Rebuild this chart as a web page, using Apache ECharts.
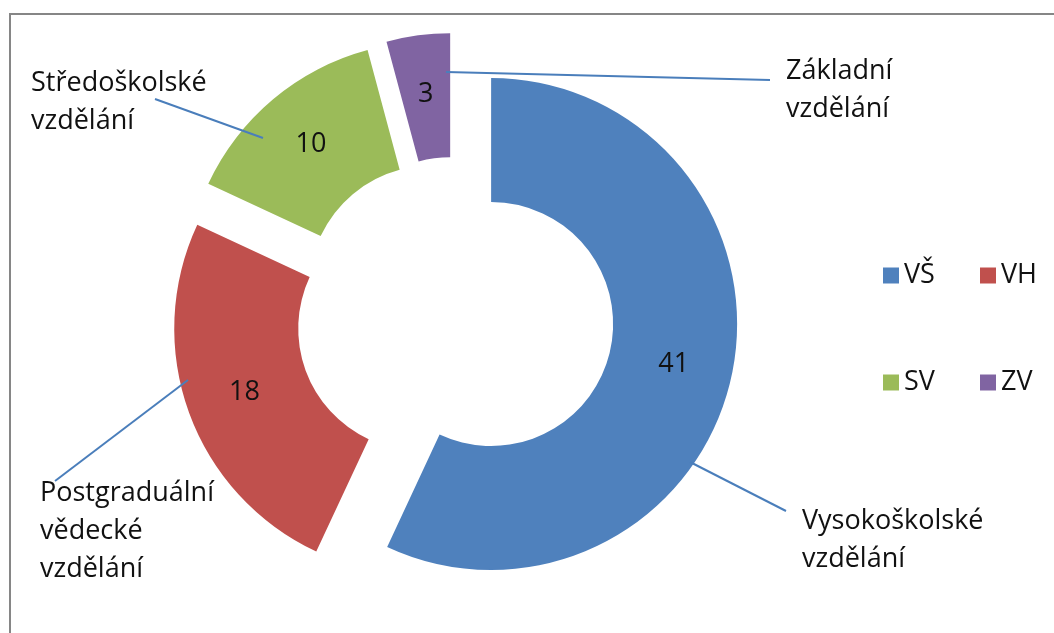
<!DOCTYPE html>
<html>
<head>
<meta charset="utf-8">
<script src="https://cdn.jsdelivr.net/npm/echarts@6/dist/echarts.min.js"></script>
<style>
html,body{margin:0;padding:0;background:#fff;}
#chart{width:1054px;height:633px;}
</style>
</head>
<body>
<div id="chart"></div>
<script>
// ---- data ----
const codes = ['VŠ', 'VH', 'SV', 'ZV'];
const values = [41, 18, 10, 3];
const fullNames = ['Vysokoškolské\nvzdělání', 'Postgraduální\nvědecké\nvzdělání', 'Středoškolské\nvzdělání', 'Základní\nvzdělání'];
const colors = ['#4f81bd', '#c0504d', '#9bbb59', '#8064a2'];

// ---- layout / style (not data) ----
const FONT = '"Open Sans"';
const FS = 27;
const LH = 38;
const TEXT = '#111111';
const outerLabelPos = [
  {x: 802, y: 502, line: [[690, 462], [786, 511]]},
  {x: 40, y: 474, line: [[188, 380], [55, 481]]},
  {x: 31, y: 64, line: [[263, 138], [155, 99]]},
  {x: 786, y: 52, line: [[446, 72], [770, 80]]}
];
const legendPos = [[878, 257], [975, 257], [878, 364], [975, 364]];

const chart = echarts.init(document.getElementById('chart'), null, {renderer: 'canvas'});

const graphics = [{
  type: 'rect',
  shape: {x: 10, y: 14, width: 1100, height: 700},
  style: {fill: 'none', stroke: '#868686', lineWidth: 2},
  silent: true,
  z: -10
}];
outerLabelPos.forEach((p, i) => {
  graphics.push({
    type: 'polyline',
    shape: {points: p.line},
    style: {stroke: '#4a7ebb', lineWidth: 2, fill: 'none'},
    silent: true,
    z: 100
  });
  graphics.push({
    type: 'text',
    x: p.x,
    y: p.y,
    style: {
      text: fullNames[i],
      font: FS + 'px ' + FONT,
      lineHeight: LH,
      fill: TEXT,
      align: 'left',
      verticalAlign: 'top'
    },
    silent: true,
    z: 100
  });
});

const option = {
  backgroundColor: '#ffffff',
  animation: false,
  graphic: graphics,
  legend: codes.map((c, i) => ({
    data: [c],
    left: legendPos[i][0],
    top: legendPos[i][1],
    icon: 'rect',
    itemWidth: 16, itemHeight: 16,
    selectedMode: false,
    textStyle: {fontFamily: FONT, fontSize: FS, color: TEXT}
  })),
  series: [{
    type: 'pie',
    name: 'vzdělání',
    center: [455, 316],
    radius: [122, 246],
    startAngle: 90,
    clockwise: true,
    selectedMode: 'multiple',
    selectedOffset: 37,
    avoidLabelOverlap: false,
    animation: false,
    emphasis: {disabled: true},
    data: codes.map((c, i) => ({
      name: c,
      value: values[i],
      selected: true,
      itemStyle: {color: colors[i]}
    })),
    label: {
      show: true,
      position: 'inside',
      formatter: '{c}',
      fontFamily: FONT,
      fontSize: FS,
      color: TEXT
    },
    labelLine: {show: false}
  }]
};

chart.setOption(option);
</script>
</body>
</html>
